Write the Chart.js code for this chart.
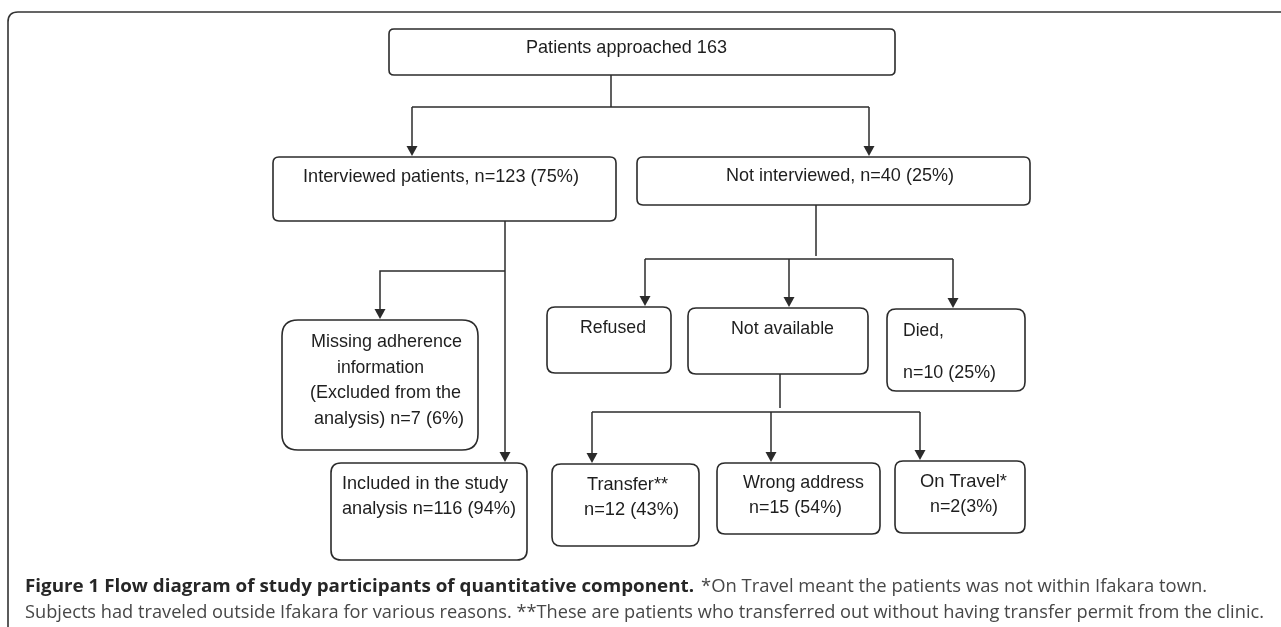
<!DOCTYPE html>
<html>
<head>
<meta charset="utf-8">
<script src="https://cdn.jsdelivr.net/npm/chart.js@4.4.1/dist/chart.umd.min.js"></script>
<style>
  html, body { margin: 0; padding: 0; background: #ffffff; }
  #wrap { width: 1281px; height: 627px; }
</style>
</head>
<body>
<div id="wrap"><canvas id="c" width="1281" height="627"></canvas></div>
<script>
// ---------- DATA ----------
const nodeNames = ['approached', 'interviewed', 'notInterviewed', 'missing', 'included',
                   'refused', 'notAvailable', 'died', 'transfer', 'wrongAddress', 'onTravel'];
const nodeCounts = [163, 123, 40, 7, 116, null, null, 10, 12, 15, 2];
const nodePercents = [null, 75, 25, 6, 94, null, null, 25, 43, 54, 3];
const nodeText = [
  ['Patients approached ' + nodeCounts[0]],
  ['Interviewed patients, n=' + nodeCounts[1] + ' (' + nodePercents[1] + '%)'],
  ['Not interviewed, n=' + nodeCounts[2] + ' (' + nodePercents[2] + '%)'],
  ['Missing adherence', 'information', '(Excluded from the', 'analysis) n=' + nodeCounts[3] + ' (' + nodePercents[3] + '%)'],
  ['Included in the study', 'analysis n=' + nodeCounts[4] + ' (' + nodePercents[4] + '%)'],
  ['Refused'],
  ['Not available'],
  ['Died,', 'n=' + nodeCounts[7] + ' (' + nodePercents[7] + '%)'],
  ['Transfer**', 'n=' + nodeCounts[8] + ' (' + nodePercents[8] + '%)'],
  ['Wrong address', 'n=' + nodeCounts[9] + ' (' + nodePercents[9] + '%)'],
  ['On Travel*', 'n=' + nodeCounts[10] + '(' + nodePercents[10] + '%)']
];
const captionBold = 'Figure 1 Flow diagram of study participants of quantitative component.';
const captionRest1 = '*On Travel meant the patients was not within Ifakara town.';
const captionLine2 = 'Subjects had traveled outside Ifakara for various reasons. **These are patients who transferred out without having transfer permit from the clinic.';

// ---------- LAYOUT (chart units: x 0..1281, y 0..627 downward) ----------
const boxLayout = [
  {x0: 389, y0: 29,  x1: 895,  y1: 75,  r: 5},
  {x0: 273, y0: 157, x1: 616,  y1: 221, r: 6},
  {x0: 637, y0: 157, x1: 1030, y1: 205, r: 6},
  {x0: 282, y0: 320, x1: 478,  y1: 450, r: 16},
  {x0: 331, y0: 463, x1: 527,  y1: 560, r: 10},
  {x0: 547, y0: 307, x1: 671,  y1: 373, r: 8},
  {x0: 688, y0: 308, x1: 868,  y1: 374, r: 8},
  {x0: 887, y0: 309, x1: 1025, y1: 391, r: 9},
  {x0: 552, y0: 464, x1: 699,  y1: 546, r: 9},
  {x0: 717, y0: 463, x1: 880,  y1: 534, r: 8},
  {x0: 895, y0: 461, x1: 1025, y1: 533, r: 8}
];
// per node, per line: [left x, right x, middle y]
const textLayout = [
  [[526, 727, 48]],
  [[303, 579, 177]],
  [[726, 954, 176]],
  [[311, 462, 342], [337, 424, 368], [310, 461, 393], [314, 464, 419]],
  [[342, 508, 484], [342, 516, 509]],
  [[580, 646, 328]],
  [[731, 834, 329]],
  [[903, 944, 331], [903, 996, 373]],
  [[587, 668, 485], [584, 679, 510]],
  [[743, 864, 483], [749, 842, 508]],
  [[920, 1007, 482], [930, 998, 507]]
];
// connectors: polylines, last point gets an arrow if arrow=true
const connectors = [
  {pts: [[611, 75], [611, 107]], arrow: false},
  {pts: [[412, 107], [869, 107]], arrow: false},
  {pts: [[412, 107], [412, 157]], arrow: true},
  {pts: [[869, 107], [869, 157]], arrow: true},
  {pts: [[505, 221], [505, 463]], arrow: true},
  {pts: [[505, 271], [380, 271], [380, 320]], arrow: true},
  {pts: [[816, 205], [816, 256]], arrow: false},
  {pts: [[645, 259], [953, 259]], arrow: false},
  {pts: [[645, 259], [645, 307]], arrow: true},
  {pts: [[789, 259], [789, 308]], arrow: true},
  {pts: [[953, 259], [953, 309]], arrow: true},
  {pts: [[780, 374], [780, 408]], arrow: false},
  {pts: [[592, 412], [920, 412]], arrow: false},
  {pts: [[592, 412], [592, 464]], arrow: true},
  {pts: [[771, 412], [771, 463]], arrow: true},
  {pts: [[920, 412], [920, 461]], arrow: true}
];
const captionLayout = {x: 25, y1: 587, boldRight: 694, restLeft: 701, restRight: 1207, y2: 613, right2: 1264};

// ---------- DRAW ----------
const diagramFont = '19px "Liberation Sans Narrow", "Liberation Sans", Arial, sans-serif';
const lineColor = '#2b2b2b';

function fitText(ctx, text, left, right, y, font, color) {
  ctx.save();
  ctx.font = font;
  ctx.fillStyle = color;
  ctx.textBaseline = 'middle';
  ctx.textAlign = 'left';
  const w = ctx.measureText(text).width;
  const target = right - left;
  ctx.translate(left, y);
  ctx.scale(target / w, 1);
  ctx.fillText(text, 0, 0);
  ctx.restore();
}

function roundRect(ctx, x0, y0, x1, y1, r) {
  ctx.beginPath();
  ctx.moveTo(x0 + r, y0);
  ctx.lineTo(x1 - r, y0);
  ctx.quadraticCurveTo(x1, y0, x1, y0 + r);
  ctx.lineTo(x1, y1 - r);
  ctx.quadraticCurveTo(x1, y1, x1 - r, y1);
  ctx.lineTo(x0 + r, y1);
  ctx.quadraticCurveTo(x0, y1, x0, y1 - r);
  ctx.lineTo(x0, y0 + r);
  ctx.quadraticCurveTo(x0, y0, x0 + r, y0);
  ctx.closePath();
}

const flowPlugin = {
  id: 'flow',
  afterDraw(chart) {
    const ctx = chart.ctx;
    const xs = chart.scales.x, ys = chart.scales.y;
    const X = v => xs.getPixelForValue(v);
    const Y = v => ys.getPixelForValue(v);

    ctx.save();
    // outer frame (top + left, rounded corner)
    ctx.strokeStyle = '#333';
    ctx.lineWidth = 1.6;
    ctx.beginPath();
    ctx.moveTo(X(8), Y(627));
    ctx.lineTo(X(8), Y(22));
    ctx.quadraticCurveTo(X(8), Y(12), X(18), Y(12));
    ctx.lineTo(X(1281), Y(12));
    ctx.stroke();

    // boxes
    ctx.strokeStyle = lineColor;
    ctx.lineWidth = 1.6;
    boxLayout.forEach(b => {
      roundRect(ctx, X(b.x0), Y(b.y0), X(b.x1), Y(b.y1), b.r);
      ctx.stroke();
    });

    // connectors
    ctx.lineWidth = 1.5;
    connectors.forEach(c => {
      const pts = c.pts.map(p => [X(p[0]), Y(p[1])]);
      const last = pts[pts.length - 1];
      const ah = 11, aw = 5.5;
      ctx.beginPath();
      ctx.moveTo(pts[0][0], pts[0][1]);
      for (let i = 1; i < pts.length; i++) {
        let px = pts[i][0], py = pts[i][1];
        if (c.arrow && i === pts.length - 1) py = py - ah + 1;
        ctx.lineTo(px, py);
      }
      ctx.stroke();
      if (c.arrow) {
        ctx.fillStyle = lineColor;
        ctx.beginPath();
        ctx.moveTo(last[0], last[1] - 1);
        ctx.lineTo(last[0] - aw, last[1] - ah);
        ctx.lineTo(last[0] + aw, last[1] - ah);
        ctx.closePath();
        ctx.fill();
      }
    });

    // node texts
    nodeText.forEach((lines, i) => {
      lines.forEach((t, j) => {
        const L = textLayout[i][j];
        fitText(ctx, t, X(L[0]), X(L[1]), Y(L[2]), diagramFont, '#1e1e1e');
      });
    });

    // caption
    const cl = captionLayout;
    fitText(ctx, captionBold, X(cl.x), X(cl.boldRight), Y(cl.y1), 'bold 17.5px "Open Sans", "Noto Sans", sans-serif', '#262626');
    fitText(ctx, captionRest1, X(cl.restLeft), X(cl.restRight), Y(cl.y1), '17.5px "Open Sans", "Noto Sans", sans-serif', '#474747');
    fitText(ctx, captionLine2, X(cl.x), X(cl.right2), Y(cl.y2), '17.5px "Open Sans", "Noto Sans", sans-serif', '#474747');
    ctx.restore();
  }
};

new Chart(document.getElementById('c'), {
  type: 'scatter',
  data: {
    datasets: [{
      label: 'nodes',
      data: boxLayout.map((b, i) => ({x: (b.x0 + b.x1) / 2, y: (b.y0 + b.y1) / 2, name: nodeNames[i]})),
      pointRadius: 0,
      pointHoverRadius: 0
    }]
  },
  options: {
    responsive: false,
    animation: false,
    events: [],
    layout: {padding: 0},
    plugins: {legend: {display: false}, tooltip: {enabled: false}},
    scales: {
      x: {type: 'linear', min: 0, max: 1281, display: false},
      y: {type: 'linear', min: 0, max: 627, reverse: true, display: false}
    }
  },
  plugins: [flowPlugin]
});
</script>
</body>
</html>
